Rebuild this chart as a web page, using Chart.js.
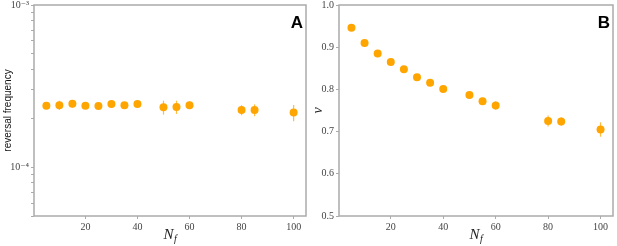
<!DOCTYPE html>
<html>
<head>
<meta charset="utf-8">
<script src="https://cdn.jsdelivr.net/npm/chart.js@4.4.1/dist/chart.umd.min.js"></script>
<style>
  body { margin: 0; background: #fff; }
  #wrap { position: relative; width: 617px; height: 246px; }
  canvas { position: absolute; top: 0; }
  #chartA { left: 0; }
  #chartB { left: 310px; }
</style>
</head>
<body>
<div id="wrap">
  <canvas id="chartA" width="310" height="246"></canvas>
  <canvas id="chartB" width="307" height="246"></canvas>
</div>
<script>
// data
const nf = [5, 10, 15, 20, 25, 30, 35, 40, 50, 55, 60, 80, 85, 100];
const revFreq = [2.39e-4, 2.41e-4, 2.46e-4, 2.39e-4, 2.38e-4, 2.45e-4, 2.41e-4, 2.45e-4, 2.34e-4, 2.35e-4, 2.41e-4, 2.25e-4, 2.25e-4, 2.17e-4];
const revErr = [1.0e-5, 1.6e-5, 1.3e-5, 0.8e-5, 0.8e-5, 0.9e-5, 1.0e-5, 0.8e-5, 2.3e-5, 2.2e-5, 1.3e-5, 1.6e-5, 1.9e-5, 2.5e-5];
const vel = [0.946, 0.910, 0.885, 0.865, 0.848, 0.829, 0.816, 0.801, 0.787, 0.772, 0.762, 0.725, 0.724, 0.705];
const velErr = [0.003, 0.003, 0.003, 0.003, 0.003, 0.003, 0.004, 0.004, 0.005, 0.008, 0.010, 0.013, 0.010, 0.017];

const xTicks = [20, 40, 60, 80, 100];
const logTicks = [5e-5, 6e-5, 7e-5, 8e-5, 9e-5, 1e-4, 2e-4, 3e-4, 4e-4, 5e-4, 6e-4, 7e-4, 8e-4, 9e-4, 1e-3];
const logLabels = { '0.0001': '10\u207B\u2074', '0.001': '10\u207B\u00B3' };
const vTicks = [0.5, 0.6, 0.7, 0.8, 0.9, 1.0];

const orange = '#FFA500';
const spine = '#ababab';
const tickFont = { family: "'Liberation Serif', 'DejaVu Serif', serif", size: 10 };

// error bars, drawn under the markers
const errorBars = {
  id: 'errorBars',
  beforeDatasetsDraw(chart) {
    const ctx = chart.ctx, xs = chart.scales.x, ys = chart.scales.y;
    chart.data.datasets.forEach(ds => {
      ctx.save();
      ctx.strokeStyle = 'rgba(255,165,0,0.75)';
      ctx.lineWidth = 1.2;
      ds.data.forEach((p, i) => {
        const e = ds.errors[i];
        const px = xs.getPixelForValue(p.x);
        ctx.beginPath();
        ctx.moveTo(px, ys.getPixelForValue(p.y - e));
        ctx.lineTo(px, ys.getPixelForValue(p.y + e));
        ctx.stroke();
      });
      ctx.restore();
    });
  }
};

// box round the plot, x title and panel letter
const frame = {
  id: 'frame',
  afterDraw(chart, args, opts) {
    const ctx = chart.ctx, a = chart.chartArea;
    ctx.save();
    ctx.strokeStyle = spine;
    ctx.lineWidth = 1.5;
    ctx.strokeRect(a.left, a.top, a.right - a.left, a.bottom - a.top);

    // N_f
    const cx = (a.left + a.right) / 2;
    ctx.fillStyle = '#222';
    ctx.textBaseline = 'alphabetic';
    ctx.font = "italic 15px 'Liberation Serif', serif";
    const wN = ctx.measureText('N').width;
    ctx.font = "italic 10px 'Liberation Serif', serif";
    const wf = ctx.measureText('f').width;
    const x0 = cx - (wN + wf) / 2;
    ctx.font = "italic 15px 'Liberation Serif', serif";
    ctx.fillText('N', x0, 239);
    ctx.font = "italic 10px 'Liberation Serif', serif";
    ctx.fillText('f', x0 + wN + 0.5, 242);

    // panel letter
    ctx.fillStyle = '#000';
    ctx.font = "bold 17px 'Liberation Sans', Arial, sans-serif";
    ctx.textAlign = 'right';
    ctx.fillText(opts.letter, a.right - 3, 28);
    ctx.restore();
  }
};

function makeChart(id, values, errors, yScale, yWidth, padRight, letter) {
  return new Chart(document.getElementById(id), {
    type: 'scatter',
    data: {
      datasets: [{
        data: nf.map((x, i) => ({ x: x, y: values[i] })),
        errors: errors,
        backgroundColor: orange,
        borderWidth: 0,
        pointRadius: 4,
        pointHoverRadius: 4
      }]
    },
    options: {
      responsive: false,
      animation: false,
      events: [],
      layout: { padding: { top: 5, right: padRight, bottom: 0, left: 0 } },
      plugins: { legend: { display: false }, tooltip: { enabled: false }, frame: { letter: letter } },
      scales: {
        x: {
          type: 'linear',
          min: 0.25,
          max: 104.75,
          afterBuildTicks: s => { s.ticks = xTicks.map(v => ({ value: v })); },
          afterFit: s => { s.height = 30; s.paddingLeft = 0; s.paddingRight = 0; },
          grid: { drawOnChartArea: false, drawTicks: true, tickLength: 3, tickColor: spine },
          border: { display: false },
          ticks: { font: tickFont, color: '#444', padding: 2, maxRotation: 0 }
        },
        y: Object.assign({
          afterFit: s => { s.width = yWidth; s.paddingTop = 0; s.paddingBottom = 0; },
          grid: { drawOnChartArea: false, drawTicks: true, tickLength: 3, tickColor: spine },
          border: { display: false }
        }, yScale)
      }
    },
    plugins: [errorBars, frame]
  });
}

makeChart('chartA', revFreq, revErr, {
  type: 'logarithmic',
  min: 5e-5,
  max: 1e-3,
  afterBuildTicks: s => { s.ticks = logTicks.map(v => ({ value: v })); },
  ticks: {
    font: tickFont, color: '#444', padding: 2, autoSkip: false,
    callback: v => logLabels[String(v)] || ''
  },
  title: {
    display: true, text: 'reversal frequency', color: '#111',
    font: { family: "'Liberation Sans', Arial, sans-serif", size: 10 },
    padding: { top: 2, bottom: 0 }
  }
}, 34, 3, 'A');

makeChart('chartB', vel, velErr, {
  type: 'linear',
  min: 0.5,
  max: 1.0,
  afterBuildTicks: s => { s.ticks = vTicks.map(v => ({ value: v })); },
  ticks: { font: tickFont, color: '#444', padding: 2, callback: v => v.toFixed(1) },
  title: {
    display: true, text: 'v', color: '#222',
    font: { family: "'Liberation Serif', serif", size: 14, style: 'italic' },
    padding: { top: 0, bottom: 0 }
  }
}, 29, 4, 'B');
</script>
</body>
</html>
